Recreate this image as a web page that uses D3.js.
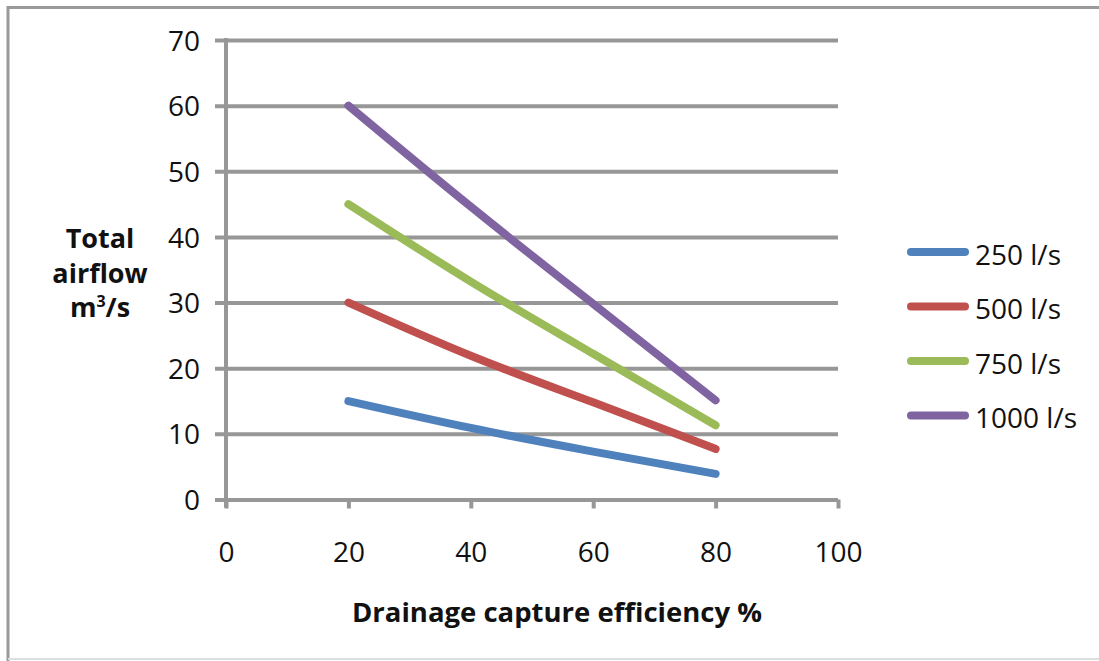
<!DOCTYPE html>
<html>
<head>
<meta charset="utf-8">
<script src="https://cdn.jsdelivr.net/npm/d3@7"></script>
<style>
  html, body { margin: 0; padding: 0; background: #fff; }
  svg { display: block; font-family: "Open Sans", sans-serif; }
</style>
</head>
<body>
<svg id="chart" width="1099" height="661"></svg>
<script>
// Capture efficiency (%) at which each flow was evaluated
const efficiency = [20, 40, 60, 80];

// Total airflow (m³/s) per drainage flow rate
const flow250 = [15, 10.9, 7.3, 3.9];
const flow500 = [30, 21.9, 14.8, 7.7];
const flow750 = [45, 33.2, 22.2, 11.3];
const flow1000 = [60, 44.6, 29.8, 15.1];

const seriesNames = ["250 l/s", "500 l/s", "750 l/s", "1000 l/s"];
const seriesColors = ["#4F81BD", "#C0504D", "#9BBB59", "#8064A2"];
const seriesValues = [flow250, flow500, flow750, flow1000];

const xTicks = [0, 20, 40, 60, 80, 100];
const yTicks = [0, 10, 20, 30, 40, 50, 60, 70];

const svg = d3.select("#chart");
const gridColor = "#979797";

// Chart frame
svg.append("path")
  .attr("d", "M8,661 L8,7.5 L1099,7.5")
  .attr("fill", "none").attr("stroke", "#9a9a9a").attr("stroke-width", 3);
svg.append("line")
  .attr("x1", 8).attr("x2", 1099).attr("y1", 659).attr("y2", 659)
  .attr("stroke", "#dedede").attr("stroke-width", 2);

const x = d3.scaleLinear().domain([0, 100]).range([226, 838]);
const y = d3.scaleLinear().domain([0, 70]).range([499.5, 40]);

// Horizontal gridlines, each running out past the axis as a tick
const yAxis = d3.axisLeft(y)
  .tickValues(yTicks)
  .tickSizeInner(-(x(100) - x(0)))
  .tickSizeOuter(0)
  .tickPadding(26);
const gy = svg.append("g").attr("transform", `translate(${x(0)},0)`).call(yAxis);
gy.select(".domain").remove();
gy.selectAll(".tick line")
  .attr("x1", -11)
  .attr("stroke", gridColor).attr("stroke-width", 4);
gy.selectAll(".tick text")
  .attr("font-size", 28).attr("fill", "#111")
  .attr("font-family", "Open Sans, sans-serif")
  .attr("dy", "0.36em");

// Vertical axis line
svg.append("line")
  .attr("x1", x(0)).attr("x2", x(0))
  .attr("y1", y(70) - 2).attr("y2", y(0) + 8)
  .attr("stroke", gridColor).attr("stroke-width", 4);

// Horizontal axis with downward ticks
const xAxis = d3.axisBottom(x)
  .tickValues(xTicks)
  .tickSizeInner(9)
  .tickSizeOuter(0)
  .tickPadding(27);
const gx = svg.append("g").attr("transform", `translate(0,${y(0)})`).call(xAxis);
gx.select(".domain").remove();
gx.selectAll(".tick line").attr("stroke", gridColor).attr("stroke-width", 4);
gx.selectAll(".tick text")
  .attr("font-size", 28).attr("fill", "#111")
  .attr("font-family", "Open Sans, sans-serif")
  .attr("dy", "0.95em");

// Series lines
const line = d3.line()
  .x((d, i) => x(efficiency[i]))
  .y(d => y(d))
  .curve(d3.curveNatural);

svg.append("g").selectAll("path")
  .data(seriesValues)
  .join("path")
  .attr("d", line)
  .attr("fill", "none")
  .attr("stroke", (d, i) => seriesColors[i])
  .attr("stroke-width", 8)
  .attr("stroke-linecap", "round")
  .attr("stroke-linejoin", "round");

// Legend
const legend = svg.append("g").selectAll("g")
  .data(seriesNames)
  .join("g")
  .attr("transform", (d, i) => `translate(0,${252 + i * 54.5})`);
legend.append("line")
  .attr("x1", 911).attr("x2", 965)
  .attr("stroke", (d, i) => seriesColors[i])
  .attr("stroke-width", 8)
  .attr("stroke-linecap", "round");
legend.append("text")
  .attr("x", 975).attr("y", 0).attr("dy", "0.45em")
  .attr("font-size", 28).attr("fill", "#111")
  .text(d => d);

// Axis titles
svg.append("text")
  .attr("x", 557).attr("y", 622)
  .attr("text-anchor", "middle")
  .attr("font-size", 27.5).attr("font-weight", "bold").attr("fill", "#111")
  .text("Drainage capture efficiency %");

const yTitle = svg.append("text")
  .attr("text-anchor", "middle")
  .attr("font-size", 27).attr("font-weight", "bold").attr("fill", "#111");
yTitle.append("tspan").attr("x", 100).attr("y", 248).text("Total");
yTitle.append("tspan").attr("x", 100).attr("y", 283).text("airflow");
const unit = yTitle.append("tspan").attr("x", 100).attr("y", 317);
unit.text("m");
unit.append("tspan").attr("dy", -10).attr("font-size", 16).text("3");
unit.append("tspan").attr("dy", 10).text("/s");
</script>
</body>
</html>
